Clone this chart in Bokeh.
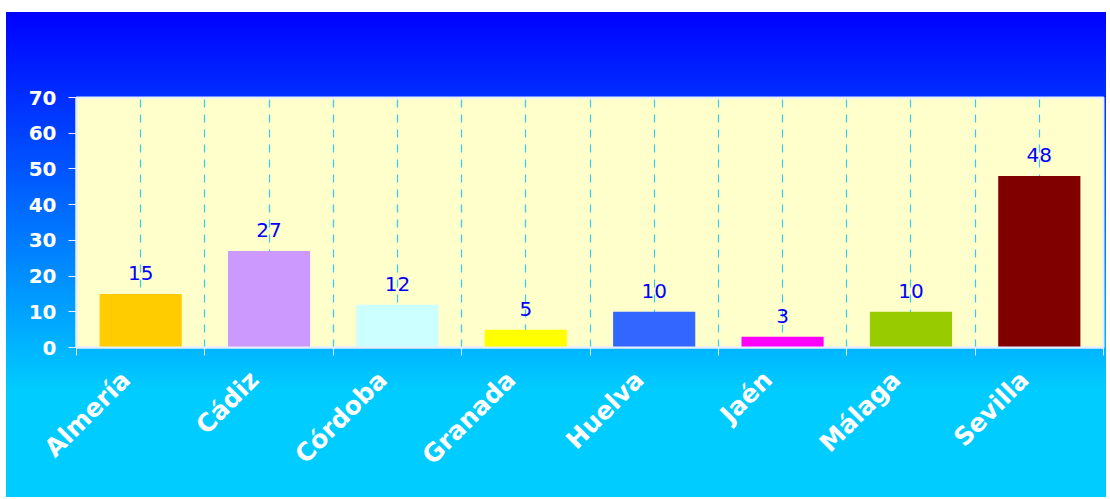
import math
from bokeh.plotting import figure
from bokeh.models import FixedTicker, ColumnDataSource, LabelSet, Range1d
from bokeh.core.properties import value
from bokeh.embed import file_html
from bokeh.resources import INLINE

provinces = ["Almería", "Cádiz", "Córdoba", "Granada", "Huelva", "Jaén", "Málaga", "Sevilla"]
values = [15, 27, 12, 5, 10, 3, 10, 48]
colors = ["#FFCC00", "#CC99FF", "#CCFFFF", "#FFFF00", "#3366FF", "#FF00FF", "#99CC00", "#800000"]
y_ticks = [0, 10, 20, 30, 40, 50, 60, 70]

n = len(provinces)
xs = [i + 0.5 for i in range(n)]
label_xs = [x - 0.115 for x in xs]
source = ColumnDataSource(dict(x=xs, top=values, color=colors, label=[str(v) for v in values]))

p = figure(width=1100, height=485, output_backend="svg", toolbar_location=None,
           x_range=Range1d(0, n), y_range=Range1d(0, 70),
           min_border_left=70, min_border_right=3, min_border_top=85, min_border_bottom=150)
p.stylesheets = [":host { background: linear-gradient(to bottom, #0000FF 0%, #00CCFF 78%, #00CCFF 100%); }"]
p.styles = {"margin-top": "12px", "margin-left": "6px"}
p.border_fill_color = None
p.background_fill_color = "#FFFFCC"
p.outline_line_color = "#E6EEFF"
p.outline_line_width = 2

p.vbar(x="x", top="top", bottom=0, width=0.64, fill_color="color", line_color=None, source=source)

labels = LabelSet(x="x", y="top", text="label", source=source, text_align="center",
                  text_baseline="alphabetic", y_offset=14, text_color="#0000FF",
                  text_font=value("DejaVu Sans"), text_font_size="20px")
p.add_layout(labels)

# x axis
p.xaxis.ticker = FixedTicker(ticks=label_xs, minor_ticks=list(range(n + 1)))
p.xaxis.major_label_overrides = {x: name for x, name in zip(label_xs, provinces)}
p.xaxis.major_tick_line_color = None
p.xaxis.minor_tick_line_color = "#E6EEFF"
p.xaxis.minor_tick_out = 8
p.xaxis.minor_tick_in = 0
p.xaxis.axis_line_color = "#E6EEFF"
p.xaxis.axis_line_width = 2
p.xaxis.major_label_orientation = math.pi / 4
p.xaxis.major_label_text_color = "white"
p.xaxis.major_label_text_font = "DejaVu Sans"
p.xaxis.major_label_text_font_style = "bold"
p.xaxis.major_label_text_font_size = "25px"
p.xaxis.major_label_standoff = 20

# y axis
p.yaxis.ticker = FixedTicker(ticks=y_ticks)
p.yaxis.minor_tick_line_color = None
p.yaxis.major_tick_line_color = "#E6EEFF"
p.yaxis.major_tick_out = 8
p.yaxis.major_tick_in = 0
p.yaxis.axis_line_color = "#E6EEFF"
p.yaxis.axis_line_width = 2
p.yaxis.major_label_text_color = "white"
p.yaxis.major_label_text_font = "DejaVu Sans"
p.yaxis.major_label_text_font_style = "bold"
p.yaxis.major_label_text_font_size = "20px"
p.yaxis.major_label_standoff = 12

# grid
p.ygrid.grid_line_color = None
p.xgrid.ticker = FixedTicker(ticks=[i * 0.5 for i in range(1, 2 * n)])
p.xgrid.grid_line_color = "#33CCEE"
p.xgrid.grid_line_dash = "8 7"
p.xgrid.grid_line_width = 1.2

open("out.html", "w").write(file_html(p, INLINE))
